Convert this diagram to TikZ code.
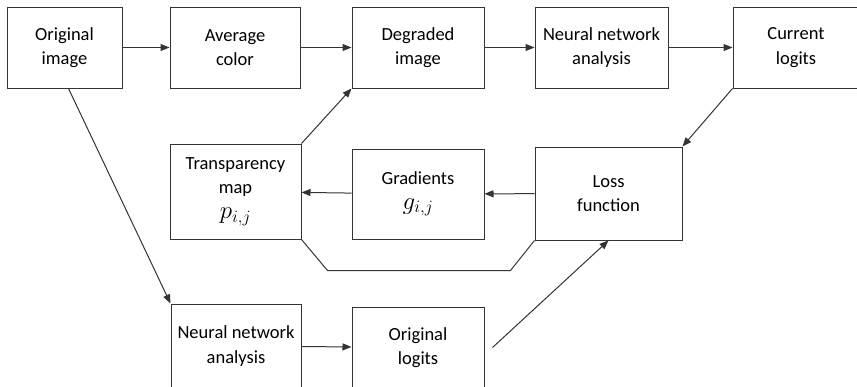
\documentclass[tikz,border=0pt]{standalone}
\usepackage{fontspec}
\setmainfont{Carlito}
\usetikzlibrary{arrows.meta}

\tikzset{
    box/.style={draw=black!80, line width=1pt, align=center, inner sep=0pt,
        font=\fontsize{18.5}{24.5}\selectfont},
    link/.style={draw=black!80, line width=1pt, -{Triangle[length=9pt, width=7pt]}},
    plain/.style={draw=black!80, line width=1pt}
}
\newcommand{\bigmath}[1]{{\fontsize{23}{24.5}\selectfont$#1$}}

\begin{document}
\begin{tikzpicture}[x=1pt, y=-1pt]
\useasboundingbox (0,0) rectangle (857,386);
% Blocuri
\foreach \n/\x/\y/\w/\h/\t in {
    orig/64.5/47.5/115/81/{Original\\image},
    avg/235/47.5/130/81/{Average\\color},
    degr/418/47.5/132/81/{Degraded\\image},
    nnTop/601.5/47.5/133/81/{Neural network\\analysis},
    curr/796/47.5/126/81/{Current\\logits},
    transp/235.5/191.5/131/95/{Transparency\\map\\\bigmath{p_{i,j}}},
    grad/418/194/132/90/{Gradients\\\bigmath{g_{i,j}}},
    loss/608.5/193.5/147/93/{Loss\\function},
    nnBot/236/346/130/84/{Neural network\\analysis},
    origLog/418/347.5/132/81/{Original\\logits}} {
    \node[box, minimum width=\w pt, minimum height=\h pt] (\n) at (\x,\y) {\t};
}
% Legaturi
\draw[link] (orig) -- (avg);
\draw[link] (avg) -- (degr);
\draw[link] (degr) -- (nnTop);
\draw[link] (nnTop) -- (curr);
\draw[link, {Triangle[length=9pt, width=7pt]}-] (loss.north east) -- (curr.south west);
\draw[link] (transp.north east) -- (degr.south west);
\draw[link] (loss) -- (grad);
\draw[link] (grad) -- (transp);
\draw[plain] (transp.south east) -- ++(26,31) -- ++(183,0) -- (loss.south west);
\draw[link] ([xshift=4pt]orig.south) -- (nnBot.north west);
\draw[link] (nnBot) -- (origLog);
\draw[link] ([xshift=8pt]origLog.east) -- (loss.south);
\end{tikzpicture}
\end{document}
